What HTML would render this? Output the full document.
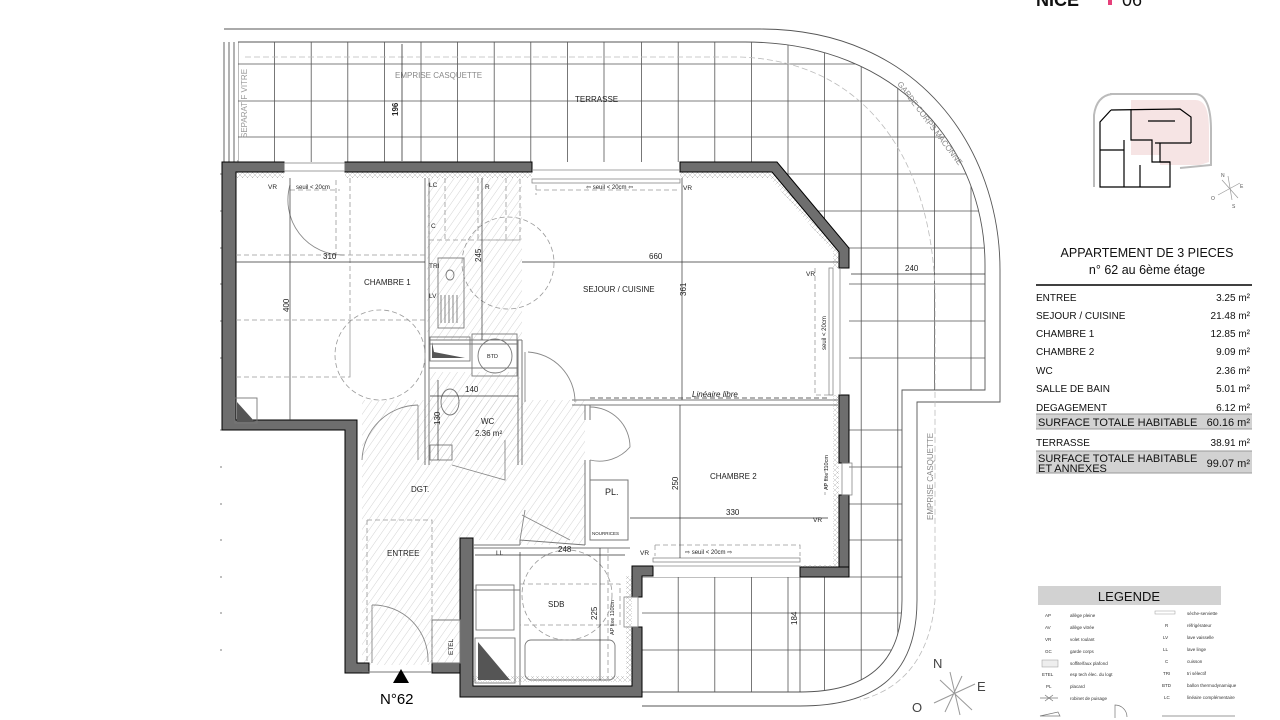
<!DOCTYPE html>
<html><head><meta charset="utf-8"><style>
html,body{margin:0;padding:0;background:#fff;}
svg{display:block;font-family:"Liberation Sans",Arial,sans-serif;}
</style></head><body>
<svg width="1280" height="720" viewBox="0 0 1280 720" xmlns="http://www.w3.org/2000/svg">
<defs>
<pattern id="h" width="6" height="6" patternUnits="userSpaceOnUse" patternTransform="rotate(35)">
<line x1="0" y1="0" x2="0" y2="6" stroke="#c8c8c8" stroke-width="0.8"/></pattern>
<pattern id="ins" width="5" height="5" patternUnits="userSpaceOnUse">
<path d="M0,5 L5,0 M0,0 L5,5" stroke="#bbb" stroke-width="0.5"/></pattern>
<pattern id="mh" width="3" height="3" patternUnits="userSpaceOnUse" patternTransform="rotate(45)">
<line x1="0" y1="0" x2="0" y2="3" stroke="#d9b0b0" stroke-width="0.6"/></pattern>
<clipPath id="terr"><path clip-rule="evenodd" d="M238,42 L745,42 C900,42 985,150 985,265 L985,390 L902,390 L902,600 C902,665 865,692 800,692 L642,692 L642,720 L220,720 L220,160 L238,160 Z M222,162 L777,162 L849,248 L849,577 L642,577 L642,720 L222,720 Z"/></clipPath>
</defs>

<!-- Terrace grid -->
<g clip-path="url(#terr)" stroke="#555" stroke-width="0.8">
<line x1="238" y1="0" x2="238" y2="720"/><line x1="274.6" y1="0" x2="274.6" y2="720"/><line x1="311.2" y1="0" x2="311.2" y2="720"/><line x1="347.8" y1="0" x2="347.8" y2="720"/><line x1="384.4" y1="0" x2="384.4" y2="720"/><line x1="421" y1="0" x2="421" y2="720"/><line x1="457.6" y1="0" x2="457.6" y2="720"/><line x1="494.2" y1="0" x2="494.2" y2="720"/><line x1="530.8" y1="0" x2="530.8" y2="720"/><line x1="567.4" y1="0" x2="567.4" y2="720"/><line x1="604" y1="0" x2="604" y2="720"/><line x1="641.6" y1="0" x2="641.6" y2="720"/><line x1="678.2" y1="0" x2="678.2" y2="720"/><line x1="714.8" y1="0" x2="714.8" y2="720"/><line x1="751.4" y1="0" x2="751.4" y2="720"/><line x1="788" y1="0" x2="788" y2="720"/><line x1="824.6" y1="0" x2="824.6" y2="720"/><line x1="861.2" y1="0" x2="861.2" y2="720"/><line x1="897.8" y1="0" x2="897.8" y2="720"/><line x1="934.4" y1="0" x2="934.4" y2="720"/><line x1="971" y1="0" x2="971" y2="720"/>
<line x1="0" y1="64" x2="1280" y2="64"/><line x1="0" y1="101" x2="1280" y2="101"/><line x1="0" y1="137" x2="1280" y2="137"/><line x1="0" y1="174" x2="1280" y2="174"/><line x1="0" y1="211" x2="1280" y2="211"/><line x1="0" y1="248" x2="1280" y2="248"/><line x1="0" y1="284" x2="1280" y2="284"/><line x1="0" y1="321" x2="1280" y2="321"/><line x1="0" y1="358" x2="1280" y2="358"/><line x1="0" y1="430" x2="1280" y2="430"/><line x1="0" y1="467" x2="1280" y2="467"/><line x1="0" y1="504" x2="1280" y2="504"/><line x1="0" y1="540" x2="1280" y2="540"/><line x1="0" y1="577" x2="1280" y2="577"/><line x1="0" y1="613" x2="1280" y2="613"/><line x1="0" y1="650" x2="1280" y2="650"/>
</g>
<!-- terrace boundaries -->
<g fill="none" stroke="#555" stroke-width="0.9">
<path d="M238,42 L745,42 C900,42 985,150 985,265 L985,390 L902,390 L902,600 C902,665 865,692 800,692 L642,692"/>
<path d="M224,29 L760,29 C920,29 1000,150 1000,270 L1000,402 L917,402 L917,600 C917,680 870,706 800,706 L642,706"/>
<line x1="224" y1="42" x2="224" y2="162"/><line x1="229" y1="42" x2="229" y2="162"/><line x1="234" y1="42" x2="234" y2="162"/>
</g>
<path d="M245,57 L740,57 C880,62 935,180 935,300 L935,600 C930,660 900,690 860,700" fill="none" stroke="#bbb" stroke-width="0.8" stroke-dasharray="6,3"/>
<text x="395" y="78" font-size="8" fill="#888">EMPRISE CASQUETTE</text>
<text x="575" y="102" font-size="8" fill="#222">TERRASSE</text>
<text transform="translate(247,138) rotate(-90)" font-size="8" fill="#999">SEPARATIF VITRE</text>
<text transform="translate(897,84) rotate(53)" font-size="8" fill="#888">GARDE CORPS MACONNE</text>
<text transform="translate(933,520) rotate(-90)" font-size="8" fill="#888">EMPRISE CASQUETTE</text>
<line x1="402" y1="44" x2="402" y2="161" stroke="#333" stroke-width="0.8"/>
<text transform="translate(398,116) rotate(-90)" font-size="8" font-weight="bold" fill="#222">196</text>

<!-- hatched areas -->
<rect x="427" y="178" width="95" height="162" fill="url(#h)"/>
<path d="M362,400 L585,400 L585,545 L520,545 L520,540 L460,540 L460,665 L362,665 Z" fill="url(#h)"/>
<rect x="430" y="372" width="90" height="90" fill="url(#h)"/>
<!-- insulation strips -->
<rect x="236" y="172" width="48" height="6" fill="url(#ins)"/>
<rect x="345" y="172" width="187" height="6" fill="url(#ins)"/>
<path d="M680,172 L773,172 L839,250 L839,268 L833,268 L833,252 L770,178 L680,178Z" fill="url(#ins)"/>
<rect x="833" y="395" width="6" height="175" fill="url(#ins)"/>
<rect x="800" y="565" width="39" height="6" fill="url(#ins)"/>
<rect x="473" y="676" width="159" height="6" fill="url(#ins)"/>
<rect x="626" y="576" width="6" height="105" fill="url(#ins)"/>

<!-- heavy walls -->
<g fill="#6e6e6e" stroke="#000" stroke-width="1">
<path d="M222,162 L284,162 L284,172 L236,172 L236,420 L357,420 L357,663 L369,663 L369,673 L345,673 L345,430 L222,430 Z"/>
<rect x="345" y="162" width="187" height="10"/>
<path d="M680,162 L777,162 L849,248 L849,268 L839,268 L839,252 L772,172 L680,172 Z"/>
<rect x="839" y="395" width="10" height="68"/>
<rect x="839" y="495" width="10" height="72"/>
<path d="M849,567 L849,577 L800,577 L800,567 Z"/>
<path d="M460,538 L473,538 L473,686 L632,686 L632,627 L642,627 L642,697 L460,697 Z"/>
<path d="M632,566 L653,566 L653,576 L642,576 L642,597 L632,597 Z"/>
<rect x="432" y="663" width="28" height="10"/>
</g>
<!-- windows -->
<g fill="none" stroke="#888" stroke-width="0.8">
<rect x="284" y="163" width="61" height="8"/>
<rect x="532" y="179" width="148" height="4"/><line x1="532" y1="170" x2="680" y2="170"/>
<rect x="829" y="268" width="4" height="127"/><line x1="840" y1="268" x2="840" y2="395"/>
<rect x="653" y="558" width="147" height="4"/><line x1="653" y1="566" x2="800" y2="566"/>
<rect x="842" y="463" width="10" height="32"/><rect x="624" y="597" width="14" height="30"/>
</g>
<!-- partitions -->
<g fill="none" stroke="#777" stroke-width="1">
<path d="M425,178 L425,465 M429,178 L429,465"/>
<path d="M518,340 L518,465 M522,340 L522,465"/>
<path d="M429,340 L522,340 M429,344 L518,344"/>
<path d="M429,368 L518,368"/>
<path d="M572,400 L838,400 M572,405 L838,405"/>
<path d="M585,405 L585,420 M590,405 L590,420"/>
<path d="M585,460 L585,545 M590,460 L590,540 L628,540 L628,480 L590,480"/>
<path d="M473,545 L520,545 M520,545 L520,540 L585,545"/>
<path d="M473,548 L630,548"/>
<path d="M520,552 L520,686 M473,590 L520,590"/>
<path d="M362,672 L432,672"/>
<rect x="432" y="620" width="28" height="43"/>
</g>
<!-- fixtures -->
<g fill="none" stroke="#777" stroke-width="0.9">
<rect x="438" y="258" width="26" height="70"/><ellipse cx="450" cy="275" rx="4" ry="5"/>
<path d="M441,295 v28 M445,295 v28 M449,295 v28 M453,295 v28 M457,295 v28"/>
<rect x="430" y="337" width="40" height="24"/><rect x="472" y="334" width="45" height="42"/>
<circle cx="495" cy="356" r="17"/>
<ellipse cx="450" cy="402" rx="9" ry="13"/><rect x="430" y="445" width="22" height="15"/>
<rect x="476" y="585" width="38" height="45"/><rect x="525" y="640" width="90" height="40" rx="6"/>
<rect x="475" y="638" width="40" height="45"/>
<rect x="235" y="398" width="22" height="25"/>
</g>
<path d="M432,342 L432,358 L465,358 L434,352Z" fill="#555"/>
<path d="M237,402 L237,422 L255,422Z" fill="#555"/>
<path d="M478,642 L478,680 L510,680Z" fill="#555"/>
<!-- dashed -->
<g fill="none" stroke="#999" stroke-width="0.8" stroke-dasharray="5,3">
<circle cx="508" cy="263" r="46"/><circle cx="380" cy="355" r="45"/><circle cx="567" cy="595" r="45"/>
<path d="M236,255 L425,255 M236,320 L425,320 M236,377 L350,377 L350,320 M350,178 L350,377"/>
<path d="M429,178 L429,240 M478,178 L478,240 L520,240 L520,178 M445,178 L445,240 M506,178 L506,240"/>
<path d="M429,240 L520,240"/>
<path d="M536,190 L680,190 M536,185 L536,195"/>
<path d="M290,190 L340,190 M336,180 L336,255"/>
<path d="M815,268 L815,395 L829,395"/>
<path d="M655,545 L800,545 L800,556 M655,545 L655,556"/>
<path d="M367,520 L432,520 L432,663 M367,520 L367,663"/>
<path d="M520,584 L620,584 L620,625 L520,625"/>
<path d="M608,548 L608,680"/>
<path d="M825,468 L825,495"/>
</g>
<!-- door arcs -->
<g fill="none" stroke="#888" stroke-width="0.9">
<path d="M362,460 A57,57 0 0 1 418,405"/><line x1="418" y1="405" x2="418" y2="460"/>
<path d="M528,352 A50,50 0 0 1 575,402"/><line x1="525" y1="352" x2="525" y2="402"/>
<path d="M590,407 A40,40 0 0 1 630,447 A40,40 0 0 1 590,460"/>
<path d="M372,605 A55,55 0 0 1 428,662"/><line x1="372" y1="605" x2="372" y2="663"/>
<path d="M522,515 L570,540 M525,510 L520,540"/>
<path d="M452,465 L505,480 L505,440"/>
<path d="M290,185 A55,55 0 0 0 344,255"/>
</g>
<!-- dimension lines -->
<g stroke="#333" stroke-width="0.7" fill="none">
<line x1="236" y1="262" x2="425" y2="262"/><line x1="290" y1="178" x2="290" y2="420"/>
<line x1="522" y1="262" x2="838" y2="262"/><line x1="682" y1="178" x2="682" y2="400"/>
<line x1="482" y1="178" x2="482" y2="340"/><line x1="430" y1="396" x2="518" y2="396"/>
<line x1="438" y1="380" x2="438" y2="460"/><line x1="630" y1="518" x2="828" y2="518"/>
<line x1="680" y1="405" x2="680" y2="558"/><line x1="475" y1="555" x2="625" y2="555"/>
<line x1="600" y1="548" x2="600" y2="680"/><line x1="800" y1="577" x2="800" y2="692"/>
<line x1="851" y1="274" x2="985" y2="274"/>
<line x1="590" y1="398" x2="828" y2="398" stroke-dasharray="5,3"/>
</g>
<!-- labels -->
<g font-size="8" fill="#222">
<text x="323" y="259">310</text><text transform="translate(289,312) rotate(-90)">400</text>
<text x="649" y="259">660</text><text transform="translate(686,296) rotate(-90)">361</text>
<text transform="translate(481,262) rotate(-90)">245</text><text x="465" y="392">140</text>
<text transform="translate(440,425) rotate(-90)">130</text><text x="726" y="515">330</text>
<text transform="translate(678,490) rotate(-90)">250</text><text x="558" y="552">248</text>
<text transform="translate(597,620) rotate(-90)">225</text><text transform="translate(797,625) rotate(-90)">184</text>
<text x="905" y="271">240</text>
<text x="364" y="285">CHAMBRE 1</text><text x="583" y="292">SEJOUR / CUISINE</text>
<text x="481" y="424">WC</text><text x="475" y="436">2.36 m²</text>
<text x="710" y="479">CHAMBRE 2</text><text x="411" y="492">DGT.</text>
<text x="387" y="556">ENTREE</text><text x="548" y="607">SDB</text>
<text x="605" y="495" font-size="9">PL.</text><text x="592" y="535" font-size="4.5">NOURRICES</text>
<text x="692" y="397" font-style="italic">Linéaire libre</text>
<text x="429" y="187" font-size="6.5">LC</text><text x="485" y="189" font-size="6.5">R</text>
<text x="431" y="228" font-size="6.5">C</text><text x="429" y="268" font-size="6.5">TRI</text>
<text x="429" y="298" font-size="6.5">LV</text><text x="487" y="358" font-size="5.5">BTD</text>
<text x="496" y="555" font-size="6.5">LL</text>
<text transform="translate(453,655) rotate(-90)" font-size="6.5">ETEL</text>
<text x="268" y="189" font-size="6.5">VR</text><text x="296" y="189" font-size="6">seuil &lt; 20cm</text>
<text x="683" y="190" font-size="6.5">VR</text><text x="586" y="189" font-size="6">⇦  seuil &lt; 20cm  ⇦</text>
<text x="806" y="276" font-size="6.5">VR</text><text x="813" y="522" font-size="6.5">VR</text>
<text x="640" y="555" font-size="6.5">VR</text><text x="685" y="554" font-size="6">⇨   seuil &lt; 20cm  ⇨</text>
<text transform="translate(826,350) rotate(-90)" font-size="6">seuil &lt; 20cm</text>
<text transform="translate(828,490) rotate(-90)" font-size="5.5">AP fixe  110cm</text>
<text transform="translate(614,635) rotate(-90)" font-size="5.5">AP fixe  110cm</text>
</g>
<path d="M393,683 L409,683 L401,669Z" fill="#000"/>
<text x="380" y="704" font-size="15" fill="#000">N°62</text>
<!-- bottom compass -->
<g stroke="#999" stroke-width="1" fill="none">
<line x1="950" y1="672" x2="960" y2="715"/><line x1="934" y1="703" x2="975" y2="684"/>
<line x1="940" y1="680" x2="972" y2="710"/><line x1="962" y1="676" x2="945" y2="712"/>
</g>
<text x="933" y="668" font-size="13" fill="#444">N</text><text x="977" y="691" font-size="13" fill="#444">E</text><text x="912" y="712" font-size="13" fill="#444">O</text>

<!-- Right panel -->
<text x="1036" y="6" font-size="18" font-weight="bold" fill="#111">NICE</text>
<rect x="1108" y="-4" width="4" height="9" fill="#e6407a"/><text x="1122" y="6" font-size="18" fill="#111">06</text>
<!-- mini plan -->
<path d="M1131,100 L1195,100 C1205,100 1209,110 1209,130 L1209,162 L1200,165 L1160,165 L1160,155 L1131,155 Z" fill="#f6e4e4"/>
<path d="M1110,94 L1195,94 C1206,94 1211,108 1211,130 L1211,165 L1180,168 M1094,187 L1094,115 C1096,100 1104,95 1112,94" fill="none" stroke="#bbb" stroke-width="2"/>
<g fill="none" stroke="#000" stroke-width="1.2">
<path d="M1111,110 L1180,109 L1191,117 L1191,143 M1111,110 L1100,122 L1100,187 L1170,187 L1170,162 L1160,162 L1160,143"/>
<path d="M1131,109 L1131,140 L1152,140 L1152,162 L1170,162 M1148,121 L1175,121"/>
<path d="M1191,143 L1155,143 M1100,150 L1124,150 M1124,140 L1124,187 M1140,165 L1140,187"/>
</g>
<g stroke="#999" stroke-width="0.7"><line x1="1228" y1="176" x2="1232" y2="200"/><line x1="1218" y1="195" x2="1240" y2="183"/><line x1="1222" y1="180" x2="1238" y2="198"/></g>
<text x="1221" y="177" font-size="5" fill="#555">N</text><text x="1240" y="188" font-size="5" fill="#555">E</text><text x="1211" y="200" font-size="5" fill="#555">O</text><text x="1232" y="208" font-size="5" fill="#555">S</text>

<text x="1147" y="257" font-size="12.5" text-anchor="middle" fill="#111">APPARTEMENT DE 3 PIECES</text>
<text x="1147" y="274" font-size="12.5" text-anchor="middle" fill="#111">n° 62 au 6ème étage</text>
<line x1="1036" y1="285" x2="1252" y2="285" stroke="#000" stroke-width="1.5"/>
<g font-size="10" fill="#111">
<text x="1036" y="301">ENTREE</text><text x="1250" y="301" text-anchor="end">3.25 m²</text>
<text x="1036" y="319">SEJOUR / CUISINE</text><text x="1250" y="319" text-anchor="end">21.48 m²</text>
<text x="1036" y="337">CHAMBRE 1</text><text x="1250" y="337" text-anchor="end">12.85 m²</text>
<text x="1036" y="355">CHAMBRE 2</text><text x="1250" y="355" text-anchor="end">9.09 m²</text>
<text x="1036" y="374">WC</text><text x="1250" y="374" text-anchor="end">2.36 m²</text>
<text x="1036" y="392">SALLE DE BAIN</text><text x="1250" y="392" text-anchor="end">5.01 m²</text>
<text x="1036" y="411">DEGAGEMENT</text><text x="1250" y="411" text-anchor="end">6.12 m²</text>
</g>
<rect x="1036" y="414" width="216" height="15" fill="#d2d2d2"/>
<line x1="1036" y1="414" x2="1252" y2="414" stroke="#999"/><line x1="1036" y1="429" x2="1252" y2="429" stroke="#999"/>
<text x="1038" y="426" font-size="11" fill="#111">SURFACE TOTALE HABITABLE</text><text x="1250" y="426" font-size="11" text-anchor="end" fill="#111">60.16 m²</text>
<text x="1036" y="446" font-size="10" fill="#111">TERRASSE</text><text x="1250" y="446" font-size="10" text-anchor="end" fill="#111">38.91 m²</text>
<rect x="1036" y="451" width="216" height="22" fill="#d2d2d2"/>
<line x1="1036" y1="451" x2="1252" y2="451" stroke="#999"/><line x1="1036" y1="473" x2="1252" y2="473" stroke="#999"/>
<text x="1038" y="462" font-size="11" fill="#111">SURFACE TOTALE HABITABLE</text>
<text x="1038" y="472" font-size="11" fill="#111">ET ANNEXES</text><text x="1250" y="467" font-size="11" text-anchor="end" fill="#111">99.07 m²</text>

<rect x="1038" y="586" width="183" height="19" fill="#d2d2d2"/>
<text x="1129" y="601" font-size="13" text-anchor="middle" fill="#111">LEGENDE</text>
<g font-size="4.5" fill="#333">
<text x="1045" y="617">AP</text><text x="1070" y="617">allège pleine</text>
<text x="1045" y="629">AV</text><text x="1070" y="629">allège vitrée</text>
<text x="1045" y="641">VR</text><text x="1070" y="641">volet roulant</text>
<text x="1045" y="653">GC</text><text x="1070" y="653">garde corps</text>
<rect x="1042" y="660" width="16" height="7" fill="#eee" stroke="#999" stroke-width="0.5"/><text x="1070" y="665">soffite/faux plafond</text>
<text x="1042" y="676">ETEL</text><text x="1070" y="676">esp tech élec. du logt</text>
<text x="1046" y="688">PL</text><text x="1070" y="688">placard</text>
<text x="1070" y="700">robinet de puisage</text>
<rect x="1155" y="611" width="20" height="3" fill="none" stroke="#999" stroke-width="0.5"/><text x="1187" y="615">sèche-serviette</text>
<text x="1165" y="627">R</text><text x="1187" y="627">réfrigérateur</text>
<text x="1163" y="639">LV</text><text x="1187" y="639">lave vaisselle</text>
<text x="1163" y="651">LL</text><text x="1187" y="651">lave linge</text>
<text x="1165" y="663">C</text><text x="1187" y="663">cuisson</text>
<text x="1163" y="675">TRI</text><text x="1187" y="675">tri sélectif</text>
<text x="1162" y="687">BTD</text><text x="1187" y="687">ballon thermodynamique</text>
<text x="1164" y="699">LC</text><text x="1187" y="699">linéaire complémentaire</text>
</g>
<g stroke="#777" stroke-width="0.7" fill="none"><path d="M1040,698 L1058,698 M1045,695 L1053,701 M1045,701 L1053,695"/><path d="M1040,716 L1058,712 L1060,716Z"/><path d="M1115,718 L1115,705 A12,12 0 0 1 1127,717"/><path d="M1162,716 L1235,716"/></g>
</svg>
</body></html>
